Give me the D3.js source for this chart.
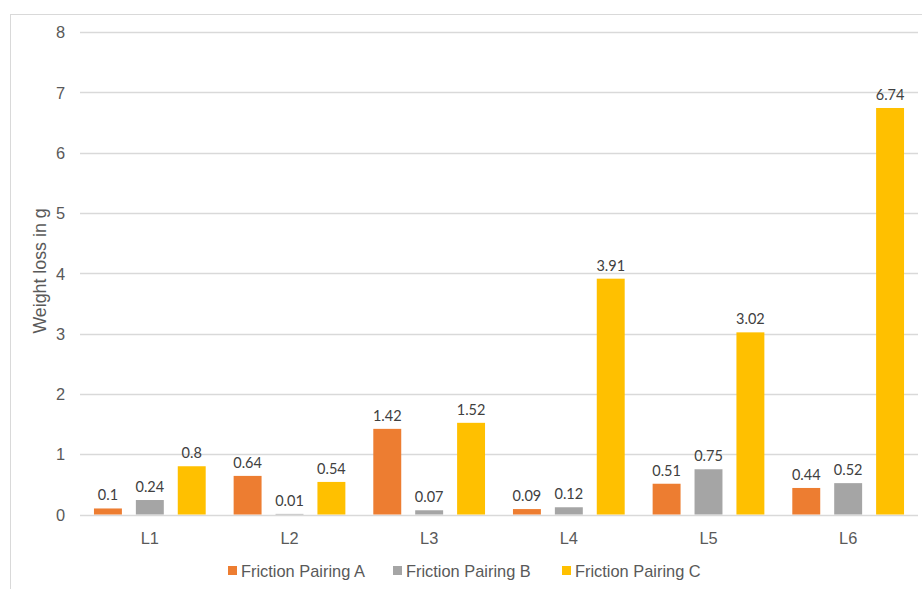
<!DOCTYPE html>
<html>
<head>
<meta charset="utf-8">
<script src="https://cdn.jsdelivr.net/npm/d3@7"></script>
<style>
  html, body { margin: 0; padding: 0; background: #ffffff; }
  svg { display: block; }
</style>
</head>
<body>
<svg id="chart" width="922" height="589"></svg>
<script>
// Weight loss per load level for three friction pairings
const categories = ["L1", "L2", "L3", "L4", "L5", "L6"];
const seriesNames = ["Friction Pairing A", "Friction Pairing B", "Friction Pairing C"];
const pairingA = [0.1, 0.64, 1.42, 0.09, 0.51, 0.44];
const pairingB = [0.24, 0.01, 0.07, 0.12, 0.75, 0.52];
const pairingC = [0.8, 0.54, 1.52, 3.91, 3.02, 6.74];
const yTicks = [0, 1, 2, 3, 4, 5, 6, 7, 8];
const colors = ["#ED7D31", "#A5A5A5", "#FFC000"];

const seriesValues = [pairingA, pairingB, pairingC];

const svg = d3.select("#chart");
const W = 922, H = 589;
const plot = { left: 80, right: 918, top: 32, bottom: 514.5 };
const sans = "'Liberation Sans', Arial, sans-serif";

// outer chart frame (runs off the right and bottom edges)
svg.append("rect")
  .attr("x", 10.5).attr("y", 14.5)
  .attr("width", W + 20).attr("height", H + 20)
  .attr("fill", "none").attr("stroke", "#D9D9D9").attr("stroke-width", 1);

const x0 = d3.scaleBand().domain(categories).range([plot.left, plot.right]).padding(0);
const x1 = d3.scaleBand().domain(seriesNames).range([0, x0.bandwidth()])
  .paddingInner(1 / 3).paddingOuter(1 / 3);
const y = d3.scaleLinear().domain([0, 8]).range([plot.bottom, plot.top]);

// horizontal gridlines
svg.append("g").selectAll("line").data(yTicks).join("line")
  .attr("x1", plot.left).attr("x2", plot.right)
  .attr("y1", d => Math.round(y(d)) + 0.5).attr("y2", d => Math.round(y(d)) + 0.5)
  .attr("stroke", "#D9D9D9").attr("stroke-width", 1.3);

// y axis labels
const yAxis = d3.axisLeft(y).tickValues(yTicks).tickSize(0).tickPadding(0).tickFormat(d3.format("d"));
const gy = svg.append("g").attr("transform", `translate(65,0)`).call(yAxis);
gy.select(".domain").remove();
gy.selectAll("text")
  .attr("font-family", sans)
  .attr("font-size", 16.4).attr("fill", "#595959").attr("dy", "0.35em");

// x axis labels
const xAxis = d3.axisBottom(x0).tickSize(0).tickPadding(0);
const gx = svg.append("g").attr("transform", `translate(0,${plot.bottom})`).call(xAxis);
gx.select(".domain").remove();
gx.selectAll("text")
  .attr("font-family", sans)
  .attr("font-size", 16.4).attr("fill", "#595959").attr("y", 29).attr("dy", 0);

// y axis title
svg.append("text")
  .attr("transform", `translate(46,271) rotate(-90)`)
  .attr("text-anchor", "middle")
  .attr("font-family", sans)
  .attr("font-size", 17.8).attr("fill", "#595959")
  .text("Weight loss in g");

// bars and value labels
const rows = categories.map((c, i) => ({
  cat: c,
  vals: seriesNames.map((s, j) => ({ s, j, v: seriesValues[j][i] }))
}));

const groups = svg.append("g").selectAll("g").data(rows).join("g")
  .attr("transform", d => `translate(${x0(d.cat)},0)`);

groups.selectAll("rect").data(d => d.vals).join("rect")
  .attr("x", d => x1(d.s))
  .attr("width", x1.bandwidth())
  .attr("y", d => y(d.v))
  .attr("height", d => y(0) - y(d.v))
  .attr("fill", d => colors[d.j]);

groups.selectAll("text").data(d => d.vals).join("text")
  .attr("x", d => x1(d.s) + x1.bandwidth() / 2)
  .attr("y", d => y(d.v) - 8)
  .attr("text-anchor", "middle")
  .attr("font-family", "Lato, 'Open Sans', sans-serif")
  .attr("font-size", 14.5).attr("fill", "#404040")
  .text(d => d.v);

// legend
const legendX = [228, 393, 562];
const legend = svg.append("g").selectAll("g").data(seriesNames).join("g")
  .attr("transform", (d, i) => `translate(${legendX[i]},571)`);
legend.append("rect")
  .attr("x", 0).attr("y", -5).attr("width", 9).attr("height", 9)
  .attr("fill", (d, i) => colors[i]);
legend.append("text")
  .attr("x", 13).attr("y", 0).attr("dy", "0.35em")
  .attr("font-family", sans)
  .attr("font-size", 16.4).attr("fill", "#595959")
  .text(d => d);
</script>
</body>
</html>
